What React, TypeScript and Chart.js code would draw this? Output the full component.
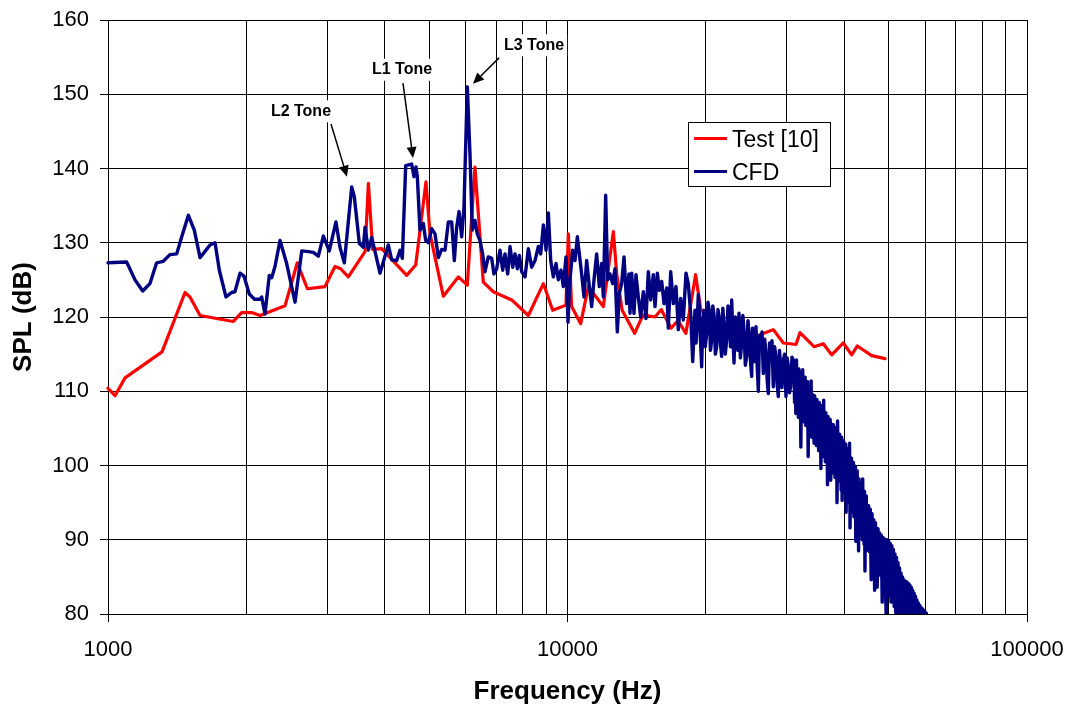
import { useEffect, useRef } from 'react';
import { Chart, registerables } from 'chart.js';

Chart.register(...registerables);

const FONT = '"Liberation Sans", Arial, Helvetica, sans-serif';

// ---- Test [10] (red) ----
const testFreq = [1000, 1036, 1089, 1311, 1471, 1508, 1586, 1874, 1954, 2054, 2142, 2428, 2582, 2716, 2967, 3119, 3209, 3334, 3626, 3687, 3767, 3941, 4467, 4674, 4920, 5021, 5368, 5786, 6053, 6289, 6558, 6896, 7560, 8219, 8861, 9284, 9925, 10041, 10211, 10683, 11100, 11967, 12583, 12800, 13150, 14000, 14600, 15500, 16000, 16800, 17400, 18100, 19000, 19500, 20500, 21500, 22500, 23500, 24500, 25293, 26240, 28051, 29493, 31429, 32063, 34397, 36035, 37583, 39837, 41545, 42729, 45920, 49090];
const testSpl = [110.4, 109.4, 111.8, 115.3, 123.3, 122.7, 120.2, 119.4, 120.6, 120.6, 120.2, 121.5, 127.3, 123.8, 124.1, 126.8, 126.5, 125.4, 128.8, 138.0, 129.1, 129.2, 125.6, 127.0, 138.2, 131.2, 122.8, 125.4, 124.3, 140.2, 124.7, 123.4, 122.3, 120.2, 124.5, 120.9, 121.6, 131.2, 121.4, 119.1, 124.1, 121.4, 131.5, 125.7, 120.9, 117.8, 120.3, 120.0, 121.0, 118.5, 119.5, 117.8, 125.7, 121.0, 119.5, 118.0, 119.0, 117.5, 118.0, 117.2, 117.6, 118.3, 116.5, 116.3, 117.9, 116.0, 116.4, 114.9, 116.5, 114.9, 116.1, 114.8, 114.4];

// ---- CFD (navy) ----
const cfdFreqLow = [1000, 1098, 1145, 1190, 1234, 1276, 1319, 1364, 1411, 1447, 1496, 1541, 1586, 1634, 1667, 1710, 1747, 1806, 1858, 1889, 1938, 1977, 2030, 2082, 2142, 2160, 2196, 2244, 2271, 2309, 2368, 2448, 2553, 2640, 2729, 2798, 2869, 2942, 3031, 3134, 3198, 3268, 3391, 3436, 3524, 3595, 3626, 3687, 3750, 3908, 4074, 4144, 4249, 4320, 4371, 4445, 4580, 4633, 4680];
const cfdSplLow = [127.3, 127.4, 125.0, 123.5, 124.5, 127.3, 127.5, 128.4, 128.5, 130.8, 133.7, 131.7, 128.0, 129.0, 129.7, 130.0, 126.3, 122.7, 123.3, 123.4, 125.9, 125.5, 123.1, 122.4, 122.4, 122.7, 120.4, 125.6, 125.3, 126.8, 130.3, 127.2, 122.0, 128.9, 128.8, 128.7, 128.2, 130.9, 128.9, 132.8, 129.4, 127.3, 137.5, 136.2, 129.9, 129.4, 132.1, 129.0, 130.7, 125.9, 129.7, 127.7, 127.6, 129.0, 127.9, 140.4, 140.6, 138.9, 140.2];

const cfdFreqMid = [4712, 4775, 4856, 4913, 4979, 5063, 5148, 5235, 5324, 5413, 5504, 5597, 5672, 5739, 5807, 5884, 5953, 6053, 6134, 6206, 6289, 6363, 6449, 6536, 6613, 6724, 6839, 6918, 7013, 7131, 7227, 7311, 7410, 7498, 7599, 7687, 7778, 7857, 7950, 8083, 8219, 8356, 8498, 8641, 8743, 8861, 8981, 9085, 9193, 9314, 9441, 9550, 9678, 9792, 9925, 10025, 10125, 10263, 10383, 10505, 10610, 10735, 10862, 11008, 11156, 11287, 11420, 11573, 11729, 11866, 11967, 12108, 12229, 12373, 12539, 12687, 12835, 12964, 13118, 13273, 13450, 13606];
const cfdSplMid = [138.9, 131.7, 132.6, 130.3, 130.0, 131.9, 131.2, 128.0, 129.1, 129.0, 132.8, 132.8, 127.6, 132.1, 134.2, 130.8, 134.8, 151.0, 142.0, 131.7, 133.0, 131.2, 130.3, 128.5, 126.1, 128.1, 127.9, 125.8, 126.5, 129.0, 126.3, 128.5, 125.8, 129.5, 126.7, 128.5, 126.5, 128.3, 126.1, 125.4, 129.2, 126.7, 127.6, 129.5, 128.5, 132.4, 129.0, 134.0, 127.6, 125.4, 127.2, 125.0, 126.3, 124.1, 128.1, 119.3, 125.0, 129.0, 127.6, 130.8, 128.5, 125.8, 122.7, 127.6, 124.1, 121.4, 125.0, 128.5, 124.1, 127.2, 122.7, 136.4, 125.0, 125.8, 124.5, 126.5, 118.0, 123.2, 124.5, 128.1, 121.8, 125.8];

const cfdFreqHigh = [13677, 13795, 13954, 14095, 14260, 14431, 14622, 14819, 14994, 15175, 15372, 15503, 15686, 15845, 16032, 16218, 16440, 16573, 16772, 16995, 17224, 17424, 17632, 17867, 18108, 18318, 18538, 18727, 18943, 19050, 19163, 19260, 19354, 19470, 19588, 19700, 19815, 19950, 20086, 20220, 20351, 20470, 20596, 20715, 20835, 20980, 21119, 21255, 21393, 21520, 21651, 21780, 21906, 22050, 22202, 22350, 22495, 22630, 22766, 22900, 23035, 23190, 23345, 23480, 23616, 23780, 23938, 24080, 24216, 24380, 24547, 24700, 24866, 25020, 25166, 25270, 25375, 25550, 25716, 25870, 26020, 26170, 26328, 26500, 26675, 26860, 27040, 27200, 27353, 27520, 27682, 27860, 28049, 28230, 28420, 28590, 28756, 28930, 29102, 29290, 29487, 29690, 29884, 30060, 30238, 30420, 30595, 30800, 31006];
const cfdSplHigh = [120.5, 125.9, 120.5, 125.7, 122.7, 120.0, 123.4, 119.8, 126.1, 122.3, 125.7, 121.4, 125.9, 123.6, 124.8, 121.8, 123.9, 118.5, 126.1, 121.8, 124.1, 118.3, 122.5, 119.6, 125.9, 124.5, 120.5, 114.0, 120.9, 116.5, 119.6, 123.0, 121.4, 117.0, 113.3, 119.5, 120.9, 116.0, 117.8, 122.0, 120.9, 115.5, 116.9, 121.5, 120.3, 115.0, 116.0, 121.0, 120.0, 116.5, 114.7, 121.2, 119.1, 115.0, 116.9, 121.5, 120.3, 116.0, 122.3, 117.5, 113.8, 120.0, 118.7, 115.5, 120.5, 114.5, 116.5, 120.2, 118.3, 113.5, 114.7, 119.5, 117.4, 114.0, 112.0, 118.5, 117.8, 114.0, 118.7, 113.5, 110.0, 117.5, 115.6, 118.0, 112.4, 117.0, 115.1, 111.5, 109.7, 116.5, 114.2, 116.8, 110.6, 116.0, 114.7, 111.0, 109.3, 115.5, 113.3, 110.5, 114.2, 115.0, 109.3, 114.5, 113.3, 109.8, 110.6, 114.6, 114.2];

const cfdFreqTail = [
  31100, 31200, 31300, 31400, 31500, 31600, 31700, 31800, 31900, 32000,
  32100, 32200, 32300, 32400, 32500, 32600, 32700, 32800, 32900, 33000,
  33100, 33200, 33300, 33400, 33500, 33600, 33700, 33800, 33900, 34000,
  34100, 34200, 34300, 34400, 34500, 34600, 34700, 34800, 34900, 35000,
  35100, 35200, 35300, 35400, 35500, 35600, 35700, 35800, 35900, 36000,
  36100, 36200, 36300, 36400, 36500, 36600, 36700, 36800, 36900, 37000,
  37100, 37200, 37300, 37400, 37500, 37600, 37700, 37800, 37900, 38000,
  38100, 38200, 38300, 38400, 38500, 38600, 38700, 38800, 38900, 39000,
  39100, 39200, 39300, 39400, 39500, 39600, 39700, 39800, 39900, 40000,
  40100, 40200, 40300, 40400, 40500, 40600, 40700, 40800, 40900, 41000,
  41100, 41200, 41300, 41400, 41500, 41600, 41700, 41800, 41900, 42000,
  42100, 42200, 42300, 42400, 42500, 42600, 42700, 42800, 42900, 43000,
  43100, 43200, 43300, 43400, 43500, 43600, 43700, 43800, 43900, 44000,
  44100, 44200, 44300, 44400, 44500, 44600, 44700, 44800, 44900, 45000,
  45200, 45400, 45600, 45800, 46000, 46200, 46400, 46600, 46800, 47000,
  47200, 47400, 47600, 47800, 48000, 48200, 48400, 48600, 48800, 49000,
  49200, 49400, 49600, 49800, 50000, 50200, 50400, 50600, 50800, 51000,
  51200, 51400, 51600, 51800, 52000, 52200, 52400, 52600, 52800, 53000,
  53200, 53400, 53600, 53800, 54000, 54200, 54400, 54600, 54800, 55000,
  55200, 55400, 55600, 55800, 56000, 56200, 56400, 56600, 56800, 57000,
  57200, 57400, 57600, 57800, 58000, 58200, 58400, 58600, 58800, 59000,
  59200, 59400, 59600, 59800, 60000, 60200, 60400, 60600, 60800, 61000,
];
const cfdSplTail = [
  114.0, 108.5, 113.6, 107.0, 114.2, 109.3, 112.4, 106.5, 113.0, 107.8,
  112.6, 102.5, 111.8, 106.8, 112.9, 105.9, 111.2, 107.2, 111.9, 105.4,
  110.8, 106.3, 111.3, 101.2, 110.2, 105.8, 109.4, 104.2, 111.4, 103.8,
  109.6, 104.9, 108.6, 103.0, 109.4, 104.4, 108.2, 102.7, 108.9, 103.6,
  108.0, 102.0, 108.5, 102.9, 107.4, 99.6, 108.1, 103.1, 106.8, 101.2,
  108.8, 102.4, 106.5, 100.5, 107.1, 101.6, 105.9, 97.4, 106.6, 101.0,
  105.4, 99.6, 106.2, 98.0, 105.6, 100.4, 104.9, 99.0, 105.5, 99.8,
  104.4, 98.4, 105.1, 99.3, 103.9, 95.0, 106.0, 98.8, 103.5, 97.9,
  104.2, 98.1, 102.9, 96.7, 103.8, 95.3, 102.6, 97.2, 103.3, 96.4,
  102.1, 96.9, 102.9, 93.7, 101.6, 95.8, 102.3, 95.1, 100.9, 95.9,
  103.0, 91.6, 100.4, 95.2, 101.0, 93.8, 99.8, 94.6, 100.4, 93.1,
  99.2, 93.9, 99.9, 89.8, 98.6, 93.2, 99.3, 91.2, 97.8, 88.5,
  98.2, 91.9, 97.0, 90.6, 97.6, 91.4, 96.4, 90.0, 98.2, 90.8,
  95.8, 89.4, 96.5, 85.8, 95.2, 89.9, 95.9, 88.6, 94.4, 89.2,
  94.6, 88.4, 94.1, 84.6, 93.5, 88.0, 92.7, 83.2, 92.3, 85.9,
  83.6, 91.5, 86.4, 90.9, 85.2, 90.6, 81.6, 90.3, 85.5, 90.1,
  83.9, 79.0, 90.0, 83.1, 89.8, 82.4, 89.5, 81.6, 89.2, 82.8,
  88.7, 81.0, 88.1, 80.2, 87.6, 81.3, 86.9, 79.6, 86.2, 78.9,
  85.5, 79.8, 85.0, 78.4, 84.6, 78.8, 84.4, 77.9, 84.3, 78.5,
  84.1, 77.6, 83.9, 78.2, 83.6, 77.3, 83.2, 77.8, 82.8, 76.9,
  82.4, 77.2, 81.9, 76.6, 81.5, 76.8, 81.2, 76.2, 80.9, 76.4,
  80.7, 75.9, 80.5, 76.0, 80.3, 75.6, 80.1, 75.8, 79.4, 76.0,
];

// ---- axes ----
const xGridValues = [1000, 2000, 3000, 4000, 5000, 6000, 7000, 8000, 9000, 10000, 20000, 30000, 40000, 50000, 60000, 70000, 80000, 90000, 100000];
const xLabelValues = [1000, 10000, 100000];
const yTickValues = [80, 90, 100, 110, 120, 130, 140, 150, 160];

// ---- legend ----
const legendLabels = ['Test [10]', 'CFD'];
const legendColors = ['#ff0000', '#000080'];

// ---- tone annotations (data coordinates) ----
const toneLabels = ['L2 Tone', 'L1 Tone', 'L3 Tone'];
const toneTextFreq = [2630, 4364, 8456];
const toneTextSpl = [147.7, 153.3, 156.6];
const toneArrowFromFreq = [3057, 4385, 7096];
const toneArrowFromSpl = [146.0, 151.5, 154.9];
const toneArrowToFreq = [3312, 4611, 6228];
const toneArrowToSpl = [138.9, 141.4, 151.4];

const zip = (xs: number[], ys: number[]) => xs.map((x, i) => ({ x, y: ys[i] }));

const overlayPlugin = {
  id: 'overlay',
  afterDatasetsDraw(chart: any) {
    const { ctx, chartArea } = chart;
    const xs = chart.scales.x;
    const ys = chart.scales.y;
    ctx.save();
    for (let i = 0; i < toneLabels.length; i++) {
      const fx = xs.getPixelForValue(toneArrowFromFreq[i]);
      const fy = ys.getPixelForValue(toneArrowFromSpl[i]);
      const tx = xs.getPixelForValue(toneArrowToFreq[i]);
      const ty = ys.getPixelForValue(toneArrowToSpl[i]);
      const ang = Math.atan2(ty - fy, tx - fx);
      const headLen = 11;
      const headW = 5;
      const bx = tx - headLen * Math.cos(ang);
      const by = ty - headLen * Math.sin(ang);
      ctx.strokeStyle = '#000';
      ctx.lineWidth = 1.5;
      ctx.beginPath();
      ctx.moveTo(fx, fy);
      ctx.lineTo(bx, by);
      ctx.stroke();
      ctx.fillStyle = '#000';
      ctx.beginPath();
      ctx.moveTo(tx, ty);
      ctx.lineTo(bx + headW * Math.sin(ang), by - headW * Math.cos(ang));
      ctx.lineTo(bx - headW * Math.sin(ang), by + headW * Math.cos(ang));
      ctx.closePath();
      ctx.fill();

      const lx = xs.getPixelForValue(toneTextFreq[i]);
      const ly = ys.getPixelForValue(toneTextSpl[i]);
      ctx.font = `bold 16px ${FONT}`;
      const w = ctx.measureText(toneLabels[i]).width;
      ctx.fillStyle = '#fff';
      ctx.fillRect(lx - w / 2 - 3, ly - 11, w + 6, 22);
      ctx.fillStyle = '#000';
      ctx.textAlign = 'center';
      ctx.textBaseline = 'middle';
      ctx.fillText(toneLabels[i], lx, ly);
    }
    // legend box
    const L = chartArea.left + 580;
    const T = chartArea.top + 102;
    const W = 143;
    const H = 65;
    ctx.fillStyle = '#fff';
    ctx.fillRect(L, T, W, H);
    ctx.strokeStyle = '#000';
    ctx.lineWidth = 1;
    ctx.strokeRect(L + 0.5, T + 0.5, W - 1, H - 1);
    ctx.font = `23px ${FONT}`;
    ctx.textAlign = 'left';
    ctx.textBaseline = 'alphabetic';
    for (let i = 0; i < legendLabels.length; i++) {
      const cy = T + 16.5 + i * 33;
      ctx.strokeStyle = legendColors[i];
      ctx.lineWidth = 3;
      ctx.beginPath();
      ctx.moveTo(L + 6, cy);
      ctx.lineTo(L + 39, cy);
      ctx.stroke();
      ctx.fillStyle = '#000';
      ctx.fillText(legendLabels[i], L + 44, T + 25 + i * 32.5);
    }
    ctx.restore();
  },
};

const zeroPadding = (scale: any) => {
  scale.paddingTop = 0;
  scale.paddingBottom = 0;
  scale.paddingLeft = 0;
  scale.paddingRight = 0;
};

export default function App() {
  const canvasRef = useRef<HTMLCanvasElement | null>(null);

  useEffect(() => {
    const canvas = canvasRef.current;
    if (!canvas) return;
    const cfdFreq = [...cfdFreqLow, ...cfdFreqMid, ...cfdFreqHigh, ...cfdFreqTail];
    const cfdSpl = [...cfdSplLow, ...cfdSplMid, ...cfdSplHigh, ...cfdSplTail];
    const clip = { left: 2, top: 2, right: 2, bottom: 0 };

    const chart = new Chart(canvas, {
      type: 'line',
      data: {
        datasets: [
          {
            label: 'CFD',
            data: zip(cfdFreq, cfdSpl),
            borderColor: '#000080',
            borderWidth: 3.4,
            borderJoinStyle: 'round',
            borderCapStyle: 'round',
            borderDash: [1000000, 0],
            pointRadius: 0,
            tension: 0,
            fill: false,
            clip,
          },
          {
            label: 'Test [10]',
            data: zip(testFreq, testSpl),
            borderColor: '#ff0000',
            borderWidth: 3.2,
            borderJoinStyle: 'round',
            borderCapStyle: 'round',
            pointRadius: 0,
            tension: 0,
            fill: false,
            clip,
          },
        ],
      },
      options: {
        responsive: false,
        animation: false,
        devicePixelRatio: 1,
        layout: { padding: { left: 0, top: 20, right: 47, bottom: 0 } },
        plugins: {
          legend: { display: false },
          tooltip: { enabled: false },
        },
        scales: {
          x: {
            type: 'logarithmic',
            min: 1000,
            max: 100000,
            afterBuildTicks: (scale: any) => {
              scale.ticks = xGridValues.map((v) => ({ value: v }));
            },
            afterFit: (scale: any) => {
              scale.height = 92;
              zeroPadding(scale);
            },
            ticks: {
              autoSkip: false,
              maxRotation: 0,
              minRotation: 0,
              padding: 15,
              color: '#000',
              font: { family: FONT, size: 22 },
              callback: (value: any) => (xLabelValues.includes(Number(value)) ? String(value) : ''),
            },
            grid: {
              color: '#000',
              lineWidth: 1,
              tickLength: 8,
              tickColor: (ctx: any) =>
                ctx.tick && xLabelValues.includes(ctx.tick.value) ? '#000' : 'rgba(0,0,0,0)',
            },
            border: { color: '#000', width: 1 },
            title: {
              display: true,
              text: 'Frequency (Hz)',
              color: '#000',
              font: { family: FONT, size: 26, weight: 'bold', lineHeight: 1 },
              padding: { top: 0, bottom: 1 },
            },
          },
          y: {
            type: 'linear',
            min: 80,
            max: 160,
            afterBuildTicks: (scale: any) => {
              scale.ticks = yTickValues.map((v) => ({ value: v }));
            },
            afterFit: (scale: any) => {
              scale.width = 108;
              zeroPadding(scale);
            },
            ticks: {
              padding: 11,
              color: '#000',
              font: { family: FONT, size: 22 },
            },
            grid: {
              color: '#000',
              lineWidth: 1,
              tickLength: 8,
              tickColor: '#000',
            },
            border: { color: '#000', width: 1 },
            title: {
              display: true,
              text: 'SPL (dB)',
              color: '#000',
              font: { family: FONT, size: 26, weight: 'bold', lineHeight: 1 },
              padding: { top: 10.6, bottom: 0 },
            },
          },
        },
      },
      plugins: [overlayPlugin],
    } as any);

    return () => chart.destroy();
  }, []);

  return (
    <div style={{ position: 'fixed', left: 0, top: 0, width: 1074, height: 706, background: '#fff' }}>
      <canvas ref={canvasRef} width={1074} height={706} style={{ display: 'block' }} />
    </div>
  );
}
